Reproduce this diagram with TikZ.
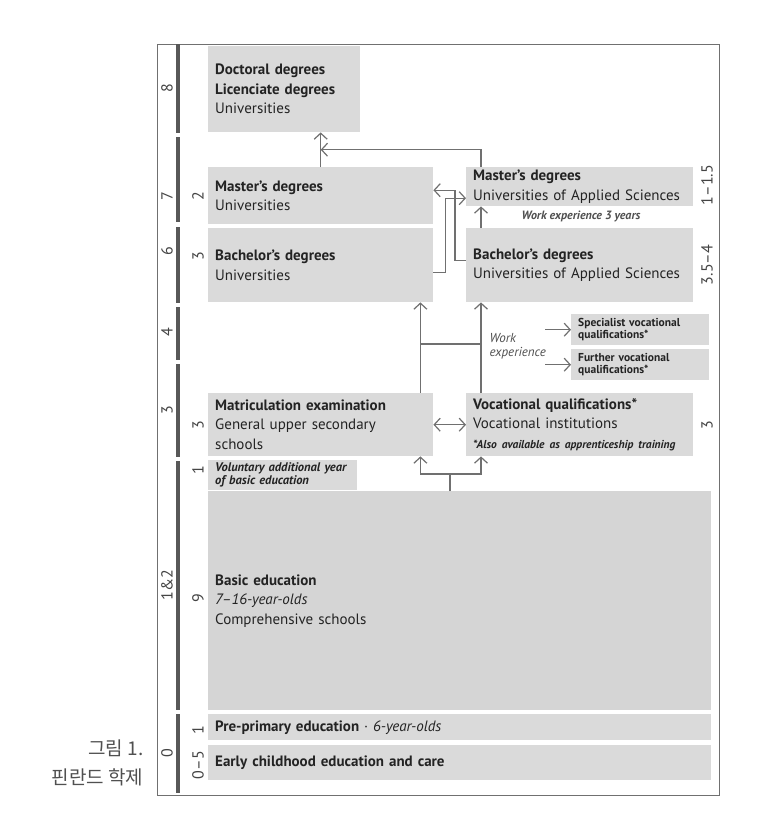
\documentclass[tikz,border=0pt]{standalone}
\usepackage{fontspec}
\setmainfont{PT Sans}
\newfontfamily\krfont{Noto Sans CJK KR}
\usepackage{tikz}
\usetikzlibrary{positioning,arrows.meta,calc}
\definecolor{boxgray}{RGB}{218,218,218}
\definecolor{basegray}{RGB}{213,213,213}
\definecolor{linegray}{RGB}{112,112,112}
\definecolor{bargray}{RGB}{88,88,88}
\definecolor{textgray}{RGB}{35,35,35}
\definecolor{capgray}{RGB}{80,80,80}
\newcommand{\uni}{Universities}
\newcommand{\uas}{Universities of Applied Sciences}

\tikzset{
  box/.style={fill=boxgray, anchor=north west, align=left, inner xsep=7pt, inner ysep=0pt,
    font=\fontsize{15}{19.5}\selectfont, text=textgray},
  small/.style={font=\bfseries\fontsize{11.5}{12.5}\selectfont},
  arr/.style={draw=linegray, line width=1.2pt, -{Straight Barb[length=6pt,width=13pt]}},
  arrtwo/.style={draw=linegray, line width=1.2pt,
    {Straight Barb[length=6pt,width=13pt]}-{Straight Barb[length=6pt,width=13pt]}},
  link/.style={draw=linegray, line width=1.2pt},
  yr/.style={rotate=90, font=\fontsize{16}{16}\selectfont, text=textgray!85, inner sep=0pt},
  bar/.style={draw=bargray, line width=4pt},
}

\begin{document}
\begin{tikzpicture}[x=1pt, y=-1pt]
    \useasboundingbox (0,0) rectangle (761,825);
    \fill[white] (0,0) rectangle (761,825);

    % Frame and level bar
    \draw[draw=linegray, line width=1pt] (157,44) rectangle (719,795);
    \foreach \a/\b in {44/133,137/222,227/303,307/360,364/457,461/710,714/793}
        \draw[bar] (178,\a) -- (178,\b);

    % Levels and durations
    \foreach \y/\t in {88/8,196/7,251/6,332/4,410/3,585/1\&2,753/0}
        \node[yr] (lv\y) at (167,\y) {\t};
    \foreach \y/\t in {196/2,256/3,425/3,470/1,598/9,730/1,765/0--5}
        \node[yr] (dur\y) at (198,\y) {\t};
    \foreach \y/\t in {185/1--1.5,265/3.5--4,425/3}
        \node[yr] (uas\y) at (707,\y) {\t};

    % Boxes
    \node[box, text width=138pt, minimum height=86pt] (doc) at (208,46)
        {\textbf{Doctoral degrees}\\\textbf{Licenciate degrees}\\\uni};
    \node[box, text width=211pt, minimum height=57pt] (mu) at (208,167)
        {\textbf{Master’s degrees}\\\uni};
    \node[box, text width=211pt, minimum height=74pt] (bu) at (208,228)
        {\textbf{Bachelor’s degrees}\\\uni};
    \node[box, text width=213pt, minimum height=39pt] (mas) at (466,167)
        {\textbf{Master’s degrees}\\\uas};
    \node[box, text width=213pt, minimum height=74pt] (bas) at (466,228)
        {\textbf{Bachelor’s degrees}\\\uas};
    \node[box, small, text width=124pt, minimum height=31pt] (spec) at (571,314)
        {Specialist vocational\\qualifications*};
    \node[box, small, text width=124pt, minimum height=31pt] (furt) at (571,349)
        {Further vocational\\qualifications*};
    \node[box, text width=211pt, minimum height=63pt] (matr) at (208,393)
        {\textbf{Matriculation examination}\\General upper secondary\\schools};
    \node[box, text width=213pt, minimum height=63pt] (voc) at (466,393)
        {\textbf{Vocational qualifications*}\\Vocational institutions\\
         {\bfseries\itshape\fontsize{11.5}{12}\selectfont *Also available as apprenticeship training}};
    \node[box, fill=basegray, text width=489pt, minimum height=219pt] (basic) at (208,491)
        {\textbf{Basic education}\\\textit{7–16-year-olds}\\Comprehensive schools};
    \node[box, small, font=\bfseries\itshape\fontsize{12.5}{13}\selectfont,
          text width=135pt, minimum height=30pt] (volu) at (208,460)
        {Voluntary additional year\\of basic education};
    \draw[white, line width=1pt, dash pattern=on 2pt off 2pt] (volu.south west) -- (volu.south east);
    \node[box, text width=489pt, minimum height=26pt] (pre) at (208,714)
        {\textbf{Pre-primary education} · \textit{6-year-olds}};
    \node[box, text width=489pt, minimum height=35pt] (early) at (208,745)
        {\textbf{Early childhood education and care}};

    % Labels
    \node[font=\bfseries\itshape\fontsize{12}{12}\selectfont, text=capgray] (wexp) at (581,216)
        {Work experience 3 years};
    \node[anchor=west, align=left, font=\itshape\fontsize{13}{13.5}\selectfont, text=capgray] (work) at (486,346)
        {Work\\experience};

    % Connectors
    \coordinate (jn) at ($(mu.north)!0.5!(doc.south -| mu.north)$);
    \draw[arr] (mu.north) -- (doc.south -| mu.north);
    \draw[arr] ([xshift=15pt]mas.north west) |- (jn);
    \draw[arr] ([yshift=-7pt]bu.east) -- ++(12,0) |- ([yshift=-11.5pt]mas.west);
    \draw[arr] ([yshift=5pt]bas.west) -- ++(-11,0) |- ([yshift=5.5pt]mu.east);
    \draw[arr] ([xshift=15pt]bas.north west) -- ([xshift=15pt]mas.south west);
    \draw[arr] ([xshift=-13pt]matr.north east) -- ([xshift=-13pt]bu.south east);
    \draw[arr] ([xshift=15pt]voc.north west) -- ([xshift=15pt]bas.south west);
    \coordinate (wa) at ([xshift=-13pt,yshift=49pt]matr.north east);
    \coordinate (wb) at ([xshift=15pt,yshift=49pt]voc.north west);
    \draw[link] (wa) -- (wb);
    \draw[arr] ([xshift=-26pt]spec.west) -- (spec.west);
    \draw[arr] ([xshift=-26pt]furt.west) -- (furt.west);
    \draw[arrtwo] (matr.east) -- (voc.west);
    \coordinate (fork) at (450,474);
    \draw[link] (fork |- basic.north) -- (fork);
    \draw[arr] (fork) -| ([xshift=-13pt]matr.south east);
    \draw[arr] (fork) -| ([xshift=15pt]voc.south west);

    % Caption
    \node[anchor=east, font=\krfont\fontsize{19}{19}\selectfont, text=capgray] (cap1) at (147,748) {그림 1.};
    \node[anchor=east, font=\krfont\fontsize{19}{19}\selectfont, text=capgray] (cap2) at (147,777) {핀란드 학제};
\end{tikzpicture}
\end{document}
